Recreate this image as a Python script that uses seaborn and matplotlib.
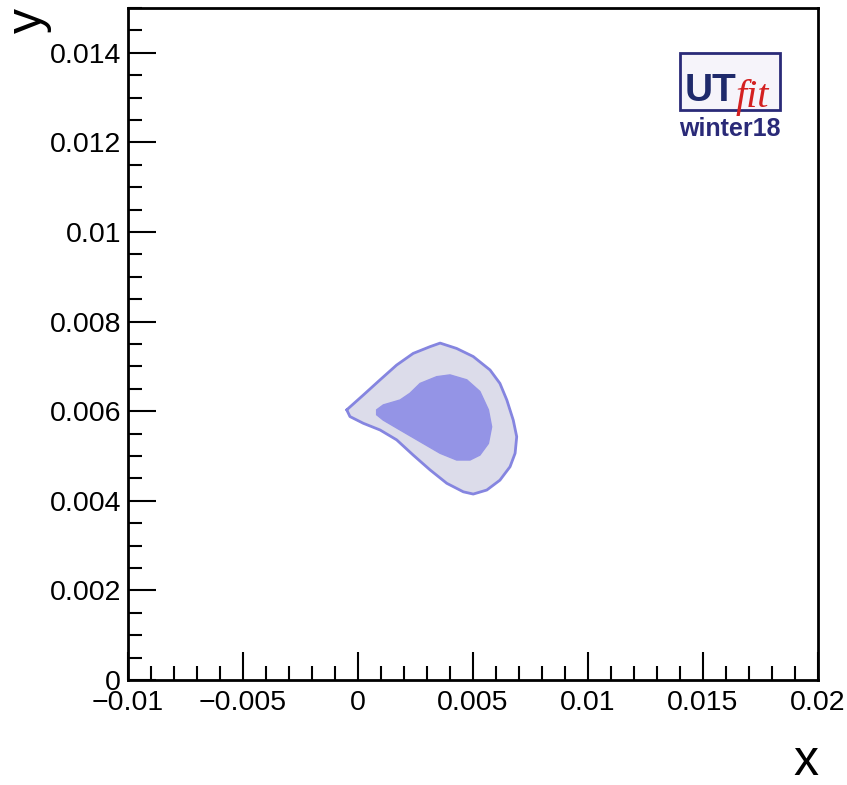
import numpy as np
import pandas as pd
import seaborn as sns
import matplotlib.pyplot as plt
from matplotlib.patches import Rectangle
from matplotlib.ticker import MultipleLocator

# contornos (x, y)
outer_x = [-0.00049, 0.00023, 0.00096, 0.00168, 0.00240, 0.00313, 0.00357, 0.00429,
           0.00501, 0.00574, 0.00617, 0.00647, 0.00675, 0.00690, 0.00683, 0.00661,
           0.00617, 0.00560, 0.00501, 0.00458, 0.00386, 0.00313, 0.00240, 0.00168,
           0.00096, 0.00023, -0.00035]
outer_y = [0.00603, 0.00636, 0.00670, 0.00703, 0.00729, 0.00744, 0.00752, 0.00740,
           0.00722, 0.00692, 0.00662, 0.00625, 0.00580, 0.00543, 0.00506, 0.00476,
           0.00446, 0.00424, 0.00415, 0.00420, 0.00439, 0.00469, 0.00502, 0.00536,
           0.00558, 0.00573, 0.00588]

inner_x = [0.00081, 0.00110, 0.00183, 0.00226, 0.00270, 0.00342, 0.00400, 0.00473,
           0.00530, 0.00567, 0.00581, 0.00567, 0.00530, 0.00487, 0.00429, 0.00357,
           0.00270, 0.00183, 0.00110, 0.00081]
inner_y = [0.00603, 0.00614, 0.00625, 0.00640, 0.00662, 0.00677, 0.00681, 0.00670,
           0.00644, 0.00603, 0.00565, 0.00528, 0.00502, 0.00491, 0.00491, 0.00506,
           0.00532, 0.00558, 0.00580, 0.00592]

x_lim = (-0.01, 0.02)
y_lim = (0.0, 0.015)

sns.set_style('ticks')
plt.rcParams['font.family'] = ['Liberation Sans', 'DejaVu Sans']

fig = plt.figure(figsize=(8.47, 7.85), dpi=100)
ax = fig.add_axes([0.1511, 0.1338, 0.8147, 0.8560])

# regiões preenchidas
ax.fill(outer_x, outer_y, color='#dcdcea', zorder=1)
ax.fill(inner_x, inner_y, color='#9494e6', zorder=2)
# contorno externo
df_out = pd.DataFrame({'x': outer_x + [outer_x[0]], 'y': outer_y + [outer_y[0]]})
sns.lineplot(data=df_out, x='x', y='y', sort=False, estimator=None, color='#8585e0',
             lw=2, ax=ax, zorder=3)

ax.set_xlim(*x_lim)
ax.set_ylim(*y_lim)
ax.xaxis.set_major_locator(MultipleLocator(0.005))
ax.xaxis.set_minor_locator(MultipleLocator(0.001))
ax.yaxis.set_major_locator(MultipleLocator(0.002))
ax.yaxis.set_minor_locator(MultipleLocator(0.0005))
ax.xaxis.set_major_formatter(plt.FuncFormatter(lambda v, p: ('%g' % round(v, 6)).replace('-', '\u2212')))
ax.yaxis.set_major_formatter(plt.FuncFormatter(lambda v, p: '%g' % round(v, 6)))
ax.tick_params(which='both', direction='in', bottom=True, left=True, top=False, right=False)
ax.tick_params(which='major', length=20, width=1.5, labelsize=20.5, color='black', labelcolor='black')
ax.tick_params(which='minor', length=10, width=1.5, color='black')
ax.tick_params(axis='y', pad=5)
ax.tick_params(axis='x', pad=7)
for s in ax.spines.values():
    s.set_linewidth(2)
    s.set_color('black')

ax.set_xlabel('x', loc='right', fontsize=36, labelpad=17, color='black')
ax.set_ylabel('y', loc='top', fontsize=36, labelpad=-2, color='black')

# logo UTfit
ax.add_patch(Rectangle((0.80, 0.848), 0.145, 0.085, transform=ax.transAxes,
                       facecolor='#f6f4fa', edgecolor='#2a2a78', lw=2, zorder=5))
ax.text(0.806, 0.862, 'UT', transform=ax.transAxes, fontsize=28, fontweight='bold',
        color='#1f2a6b', zorder=6)
ax.text(0.880, 0.852, 'fit', transform=ax.transAxes, fontsize=29, style='italic',
        family='Liberation Serif', color='#d42020', zorder=6)
ax.text(0.8725, 0.838, 'winter18', transform=ax.transAxes, fontsize=18, fontweight='bold',
        color='#2a2a78', ha='center', va='top', zorder=6)

fig.savefig('out.png', dpi=100)
